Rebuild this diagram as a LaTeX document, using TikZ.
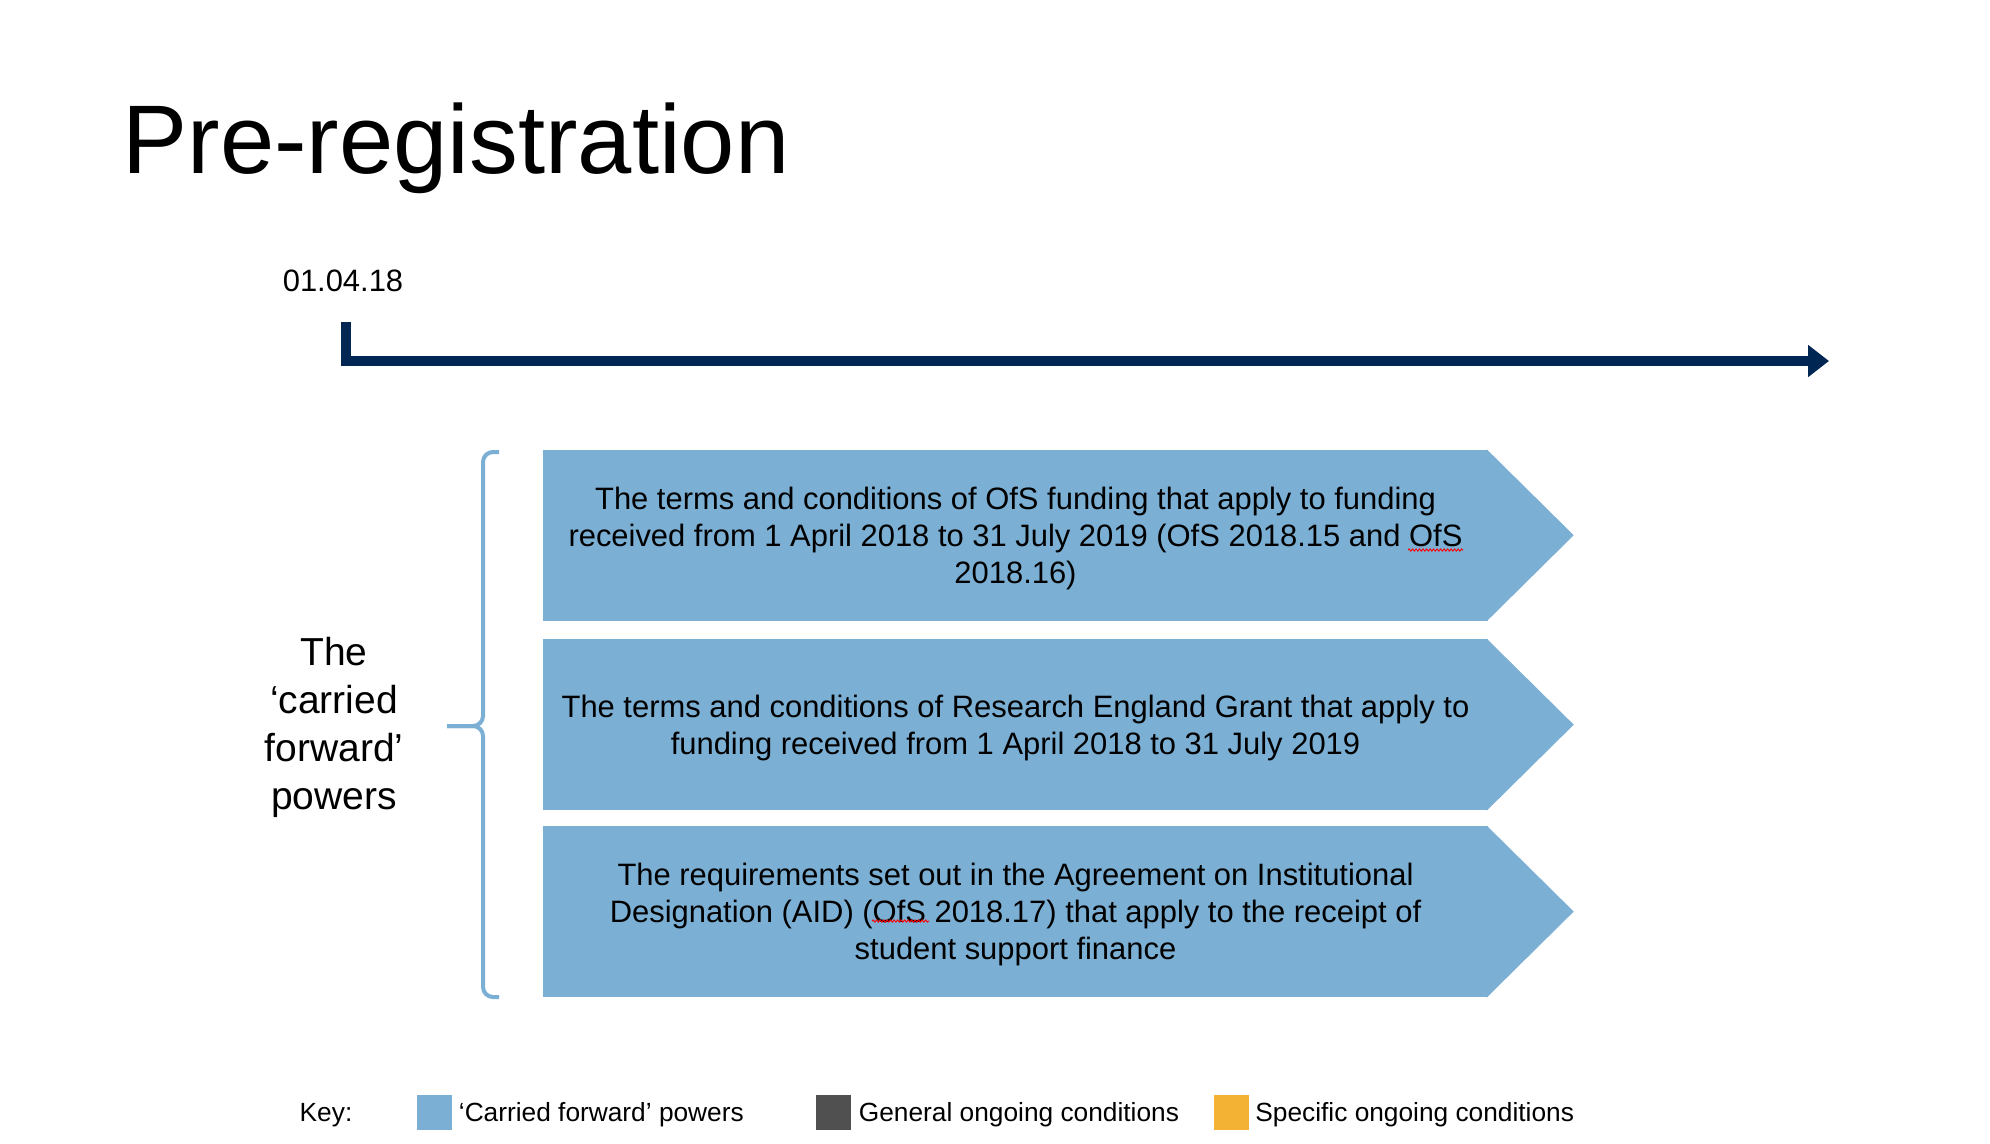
\documentclass[tikz,border=0pt]{standalone}
\usepackage{fontspec}
\setmainfont{Liberation Sans}
\usepackage{tikz}
\usetikzlibrary{positioning, arrows.meta, decorations.pathmorphing}

\definecolor{navy}{RGB}{0,38,84}
\definecolor{cfblue}{RGB}{123,175,212}
\definecolor{gengray}{RGB}{80,80,80}
\definecolor{specorange}{RGB}{244,178,53}

\tikzset{
  title/.style={font=\fontsize{27.75pt}{33pt}\selectfont, inner sep=0},
  datetext/.style={font=\fontsize{8.8pt}{10.5pt}\selectfont, inner sep=0},
  timeline/.style={navy, line width=1.05mm, line join=miter, -{Triangle[length=2.1mm,width=3.1mm]}},
  powerbox/.style={fill=cfblue, minimum width=9.45cm, minimum height=1.705cm, inner sep=0,
    align=center, text depth=0pt, font=\fontsize{8.8pt}{10.5pt}\selectfont},
  bracket/.style={cfblue, line width=0.4mm, rounded corners=1mm},
  sidetext/.style={align=center, inner sep=0, font=\fontsize{11.1pt}{13.65pt}\selectfont},
  swatch/.style={minimum size=0.35cm, inner sep=0},
  keytext/.style={inner sep=0, text height=1.9mm, text depth=0pt, font=\fontsize{7.48pt}{9pt}\selectfont},
  spellwave/.style={red, line width=0.1mm, decorate, decoration={snake, amplitude=0.1mm, segment length=0.35mm}}
}

\begin{document}
\begin{tikzpicture}
  \useasboundingbox (0,0) rectangle (19.90,-11.43);

  \node (title) at (1.22,-1.73) [anchor=base west, title] {Pre-registration};

  % timeline
  \coordinate (t0) at (3.46,-3.22);
  \coordinate (t1) at (18.29,-3.61);
  \draw [timeline] (t0) |- (t1);
  \node (date) [datetext, above=0.3cm of t0, xshift=-0.03cm] {01.04.18};

  % carried forward powers
  \node (ofsfund) at (10.155,-5.3525) [powerbox] {The terms and conditions of OfS funding that apply to funding\\received from 1 April 2018 to 31 July 2019 (OfS 2018.15 and OfS\\2018.16)};
  \node (regrant) [powerbox, below=0.175cm of ofsfund] {The terms and conditions of Research England Grant that apply to\\funding received from 1 April 2018 to 31 July 2019};
  \node (aid) [powerbox, below=0.15cm of regrant] {The requirements set out in the Agreement on Institutional\\Designation (AID) (OfS 2018.17) that apply to the receipt of\\student support finance};
  \fill [cfblue] ([xshift=-0.02cm]ofsfund.north east) -- ([xshift=0.85cm]ofsfund.east) -- ([xshift=-0.02cm]ofsfund.south east) -- cycle;
  \fill [cfblue] ([xshift=-0.02cm]regrant.north east) -- ([xshift=0.85cm]regrant.east) -- ([xshift=-0.02cm]regrant.south east) -- cycle;
  \fill [cfblue] ([xshift=-0.02cm]aid.north east) -- ([xshift=0.85cm]aid.east) -- ([xshift=-0.02cm]aid.south east) -- cycle;

  % spell-check marks
  \draw [spellwave] (14.08,-5.50) -- (14.63,-5.50);
  \draw [spellwave] (8.72,-9.21) -- (9.29,-9.21);

  % bracket
  \coordinate (btop) at (4.99,-4.52);
  \coordinate (bmid) at (4.83,-7.26);
  \coordinate (bleft) at (4.47,-7.26);
  \coordinate (bbot) at (4.99,-9.97);
  \draw [bracket] (btop) -| (bmid) -- (bleft);
  \draw [bracket] (bbot) -| (bmid) -- (bleft);
  \node (cfwd) at (3.34,-7.27) [sidetext] {The\\‘carried\\forward’\\powers};

  % key
  \node (key) at (2.99,-11.12) [anchor=west, keytext] {Key:};
  \node (sw1) at (4.34,-11.12) [swatch, fill=cfblue] {};
  \node (k1) [keytext, right=0.06cm of sw1] {‘Carried forward’ powers};
  \node (sw2) at (8.33,-11.12) [swatch, fill=gengray] {};
  \node (k2) [keytext, right=0.07cm of sw2] {General ongoing conditions};
  \node (sw3) at (12.315,-11.12) [swatch, fill=specorange] {};
  \node (k3) [keytext, right=0.05cm of sw3] {Specific ongoing conditions};
\end{tikzpicture}
\end{document}
